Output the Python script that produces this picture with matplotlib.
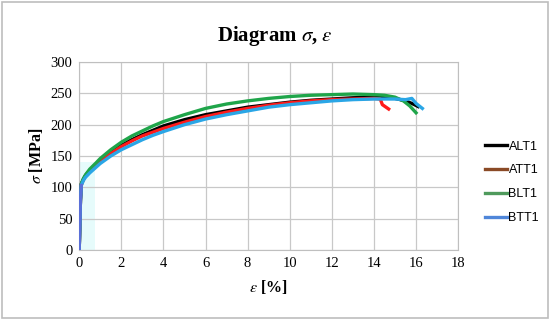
import matplotlib.pyplot as plt
from matplotlib.lines import Line2D
from matplotlib.patches import Rectangle

plt.rcParams['mathtext.fontset'] = 'stix'

# strain [%] / stress [MPa]
alt1_x = [0, 0.03, 0.06, 0.1, 0.2, 0.3, 0.5, 0.8, 1, 1.5, 2, 2.5, 3, 3.5, 4, 5, 6, 7, 8, 9, 10, 11, 12, 13, 14, 14.5, 15, 15.5, 15.8, 16.1]
alt1_y = [0, 40, 80, 105, 113, 119, 127, 137, 143, 156, 167, 176, 184, 191, 198, 208, 216, 222, 228, 232, 236, 239, 241, 243, 244, 244, 242, 238, 234, 229]

att1_x = [0, 0.03, 0.06, 0.1, 0.2, 0.3, 0.5, 0.8, 1, 1.5, 2, 2.5, 3, 3.5, 4, 5, 6, 7, 8, 9, 10, 11, 12, 13, 14, 14.3, 14.4, 14.7]
att1_y = [0, 40, 80, 104, 112, 118, 126, 136, 142, 154, 165, 174, 182, 188, 194, 204, 213, 220, 226, 231, 235, 238, 240, 241, 242, 241, 232, 225]

blt1_x = [0, 0.03, 0.06, 0.1, 0.2, 0.3, 0.5, 0.8, 1, 1.5, 2, 2.5, 3, 3.5, 4, 5, 6, 7, 8, 9, 10, 11, 12, 13, 14, 14.5, 15, 15.4, 15.7, 16.0]
blt1_y = [0, 40, 80, 106, 114, 120, 129, 139, 146, 160, 172, 182, 190, 198, 205, 216, 226, 233, 238, 242, 245, 247, 248, 249, 248, 247, 244, 238, 230, 219]

btt1_x = [0, 0.03, 0.06, 0.1, 0.2, 0.3, 0.5, 0.8, 1, 1.5, 2, 2.5, 3, 3.5, 4, 5, 6, 7, 8, 9, 10, 11, 12, 13, 14, 15, 15.5, 15.8, 16.0, 16.3]
btt1_y = [0, 40, 80, 103, 111, 116, 123, 132, 138, 150, 160, 168, 176, 183, 189, 200, 209, 216, 222, 228, 232, 235, 238, 240, 241, 241, 240, 242, 234, 226]

labels = ['ALT1', 'ATT1', 'BLT1', 'BTT1']
line_colors = ['#000000', '#ff1a1a', '#1fa54a', '#2aa6e6']
legend_colors = ['#000000', '#8a4a26', '#4f9a5c', '#4f86d9']
x_ticks = list(range(0, 19, 2))
y_ticks = list(range(0, 301, 50))

fig = plt.figure(figsize=(5.5, 3.2), dpi=100)
ax = fig.add_axes([0.144, 0.219, 0.689, 0.587])

# faint shaded patch near the origin, as in the source picture
ax.add_patch(Rectangle((0, 0), 0.75, 140, facecolor='#e6fbfb', edgecolor='none', zorder=0))

series = [(alt1_x, alt1_y), (att1_x, att1_y), (blt1_x, blt1_y), (btt1_x, btt1_y)]
for (xs, ys), c in zip(series, line_colors):
    ax.plot(xs, ys, color=c, lw=2.4, solid_joinstyle='round', zorder=3)
# steep elastic part drawn in bluish
ax.plot(btt1_x[:4], btt1_y[:4], color='#5a6fd8', lw=2.4, zorder=4)

ax.set_xlim(0, 18)
ax.set_ylim(0, 300)
ax.set_xticks(x_ticks)
ax.set_yticks(y_ticks)
ax.grid(True, color='#c8c8c8', lw=0.9)
ax.set_axisbelow(True)
for s in ax.spines.values():
    s.set_color('#bfbfbf')
ax.tick_params(length=0, pad=5, labelsize=10.5)
for t in ax.get_xticklabels() + ax.get_yticklabels():
    t.set_fontfamily('Liberation Serif')

ax.set_xlabel(r'$\varepsilon$ [%]', fontsize=11.5, fontweight='bold', family='Liberation Serif', labelpad=6)
ax.set_ylabel(r'$\sigma$ [MPa]', fontsize=11.5, fontweight='bold', family='Liberation Serif', labelpad=4)
fig.text(0.5, 0.887, r'Diagram $\sigma$, $\varepsilon$', ha='center', va='center',
         fontsize=15, fontweight='bold', family='Liberation Serif')

handles = [Line2D([0], [0], color=c, lw=2.4) for c in legend_colors]
fig.legend(handles, labels, loc='center left', bbox_to_anchor=(0.862, 0.43), frameon=False,
           handlelength=1.75, handletextpad=0.1, labelspacing=0.95,
           prop={'family': 'Liberation Sans', 'size': 9})

fig.add_artist(Rectangle((0.004, 0.006), 0.992, 0.988, transform=fig.transFigure,
                         facecolor='none', edgecolor='#bdbdbd', lw=1.2))

fig.savefig('out.png', dpi=100)
